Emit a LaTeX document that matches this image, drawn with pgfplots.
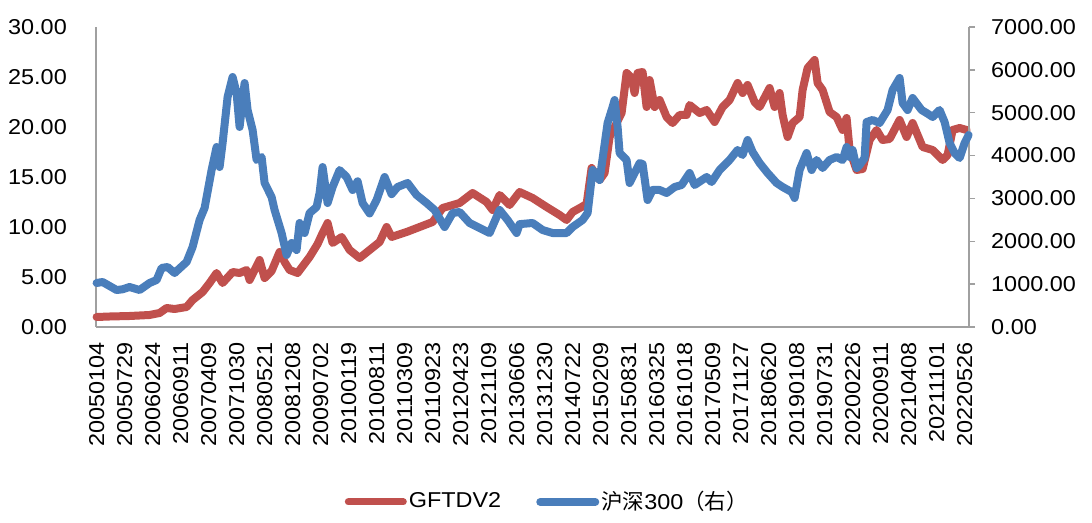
\documentclass[border=0pt]{standalone}
\usepackage{pgfplots}
\usepackage{pgfplotstable}
\pgfplotsset{compat=1.18}
\usepackage{fontspec}
\setmainfont{Liberation Sans}[FakeStretch=1.09]
\newfontfamily\cjk{Noto Sans CJK SC}
\definecolor{cred}{RGB}{192,80,77}
\definecolor{cblue}{RGB}{74,126,187}
\definecolor{axgray}{RGB}{160,160,160}
\newcommand{\bigf}{\fontsize{21.5}{26}\selectfont}

\pgfplotstableread{
x y
0 1.0
65 1.05
165 1.1
265 1.2
315 1.4
350 1.9
390 1.8
450 2.0
480 2.7
530 3.5
565 4.4
600 5.4
630 4.4
680 5.5
715 5.4
750 5.7
765 4.7
815 6.7
840 4.9
875 5.6
915 7.5
940 6.5
965 5.7
1005 5.4
1035 6.2
1065 7.0
1105 8.3
1130 9.4
1155 10.4
1180 8.4
1225 9.0
1265 7.7
1315 6.9
1365 7.7
1415 8.5
1450 10.0
1475 9.0
1550 9.5
1615 10.0
1680 10.5
1730 11.9
1815 12.4
1880 13.4
1950 12.5
1980 11.7
2015 13.2
2065 12.2
2115 13.5
2180 12.9
2250 12.0
2315 11.2
2350 10.7
2380 11.5
2425 12.0
2450 12.3
2475 15.9
2515 14.7
2540 15.4
2565 19.0
2600 20.4
2625 21.4
2650 25.4
2675 24.9
2690 23.4
2705 25.4
2730 25.5
2750 22.0
2765 24.7
2790 22.0
2815 22.7
2850 21.0
2880 20.4
2915 21.2
2950 21.2
2965 22.2
3015 21.4
3050 21.7
3090 20.5
3130 22.0
3165 22.7
3205 24.4
3230 23.4
3255 24.2
3290 22.5
3315 22.0
3365 23.9
3390 22.0
3415 23.4
3430 21.2
3455 19.0
3480 20.4
3515 21.0
3530 23.7
3555 25.9
3590 26.7
3605 24.4
3630 23.7
3665 21.5
3700 21.0
3730 19.7
3750 20.9
3765 17.7
3800 15.7
3830 15.8
3865 18.7
3900 19.7
3930 18.7
3965 18.8
4015 20.7
4050 19.0
4080 20.4
4130 18.0
4180 17.7
4230 16.7
4255 17.2
4280 19.7
4315 19.9
4350 19.7
}\redtable

\pgfplotstableread{
x y
0 1027
30 1050
100 863
130 880
165 933
215 863
265 1027
300 1097
325 1377
355 1400
390 1260
450 1517
480 1867
515 2497
540 2777
575 3663
600 4200
615 3733
630 4293
655 5367
680 5833
700 5460
715 4667
740 5693
755 5063
780 4597
800 3897
825 3967
840 3360
875 3033
890 2730
925 2193
950 1680
975 1960
1000 1797
1015 2427
1040 2193
1065 2660
1100 2800
1115 3127
1130 3733
1155 2893
1180 3267
1215 3663
1250 3500
1280 3197
1305 3400
1330 2893
1365 2650
1400 2963
1440 3500
1475 3100
1505 3267
1555 3360
1600 3080
1650 2893
1690 2730
1740 2333
1780 2660
1815 2683
1865 2427
1915 2310
1965 2193
2015 2730
2055 2497
2100 2193
2115 2400
2180 2427
2230 2263
2280 2193
2350 2193
2380 2333
2430 2497
2455 2660
2480 3663
2515 3430
2555 4760
2580 5133
2590 5297
2605 4667
2615 4060
2650 3897
2665 3360
2690 3593
2715 3827
2730 3800
2755 2963
2780 3197
2815 3197
2850 3127
2890 3267
2925 3313
2965 3593
2990 3313
3050 3500
3075 3383
3115 3663
3165 3897
3205 4130
3230 4013
3255 4363
3280 4083
3315 3827
3355 3593
3400 3360
3430 3267
3475 3150
3490 3010
3515 3663
3550 4060
3575 3663
3600 3897
3630 3710
3665 3897
3700 3967
3730 3897
3750 4200
3765 3967
3780 4130
3800 3710
3815 3780
3840 3943
3850 4783
3880 4830
3915 4760
3955 5063
3980 5530
4015 5810
4030 5227
4055 5063
4080 5343
4125 5063
4150 4993
4180 4900
4215 5063
4240 4783
4265 4293
4290 4060
4315 3943
4340 4293
4360 4480
}\bluetable

\begin{document}
\bigf
\begin{tikzpicture}[x=1pt,y=1pt]
\useasboundingbox (0,0) rectangle (1092,522);
\pgfplotsset{
  common/.style={
    at={(96pt,195pt)}, anchor=south west,
    scale only axis, width=873pt, height=300pt,
    xmin=-3, xmax=4362, ymin=0,
    clip=false,
    tick label style={font=\bigf},
    /pgf/number format/assume math mode=true,
    axis line style={axgray, line width=1.5pt},
  },
}
\begin{axis}[common,
  axis y line*=left, axis x line*=bottom,
  ymax=30, ytick={0,5,...,30},
  yticklabel style={inner sep=0pt, /pgf/number format/fixed, /pgf/number format/fixed zerofill, /pgf/number format/precision=2},
  yticklabel shift=29pt,
  xtick={0,140,...,4340},
  xticklabels={20050104,20050729,20060224,20060911,20070409,20071030,20080521,20081208,20090702,20100119,20100811,20110309,20110923,20120423,20121109,20130606,20131230,20140722,20150209,20150831,20160325,20161018,20170509,20171127,20180620,20190108,20190731,20200226,20200911,20210408,20211101,20220526},
  xticklabel style={rotate=90, anchor=east, inner sep=0pt},
  xticklabel shift=15pt,
  major tick length=0pt,
]
\addplot[cred, line width=8pt, line join=round, line cap=round] table[x=x,y=y] {\redtable};
\end{axis}
\begin{axis}[common,
  axis y line*=right, axis x line=none,
  ymax=7000, ytick={0,1000,...,7000},
  yticklabel style={inner sep=0pt, /pgf/number format/fixed, /pgf/number format/fixed zerofill, /pgf/number format/precision=2, /pgf/number format/1000 sep={}},
  yticklabel shift=16pt,
  tick align=outside, major tick length=6pt,
  major tick style={axgray, line width=1.5pt},
  legend style={draw=none, fill=none, font=\bigf, at={(0.517,-0.583)}, anchor=center,
    legend columns=2, /tikz/every even column/.append style={column sep=33pt}},
  legend image code/.code={\draw[#1, line cap=round] (3.5pt,0pt) -- (58.5pt,0pt);},
]
\addlegendimage{cred, line width=7pt}
\addlegendentry{GFTDV2}
\addplot[cblue, line width=8pt, line join=round, line cap=round] table[x=x,y=y] {\bluetable};
\addlegendentry{{\cjk 沪深}300{\cjk （右）}}
\end{axis}
\end{tikzpicture}
\end{document}
